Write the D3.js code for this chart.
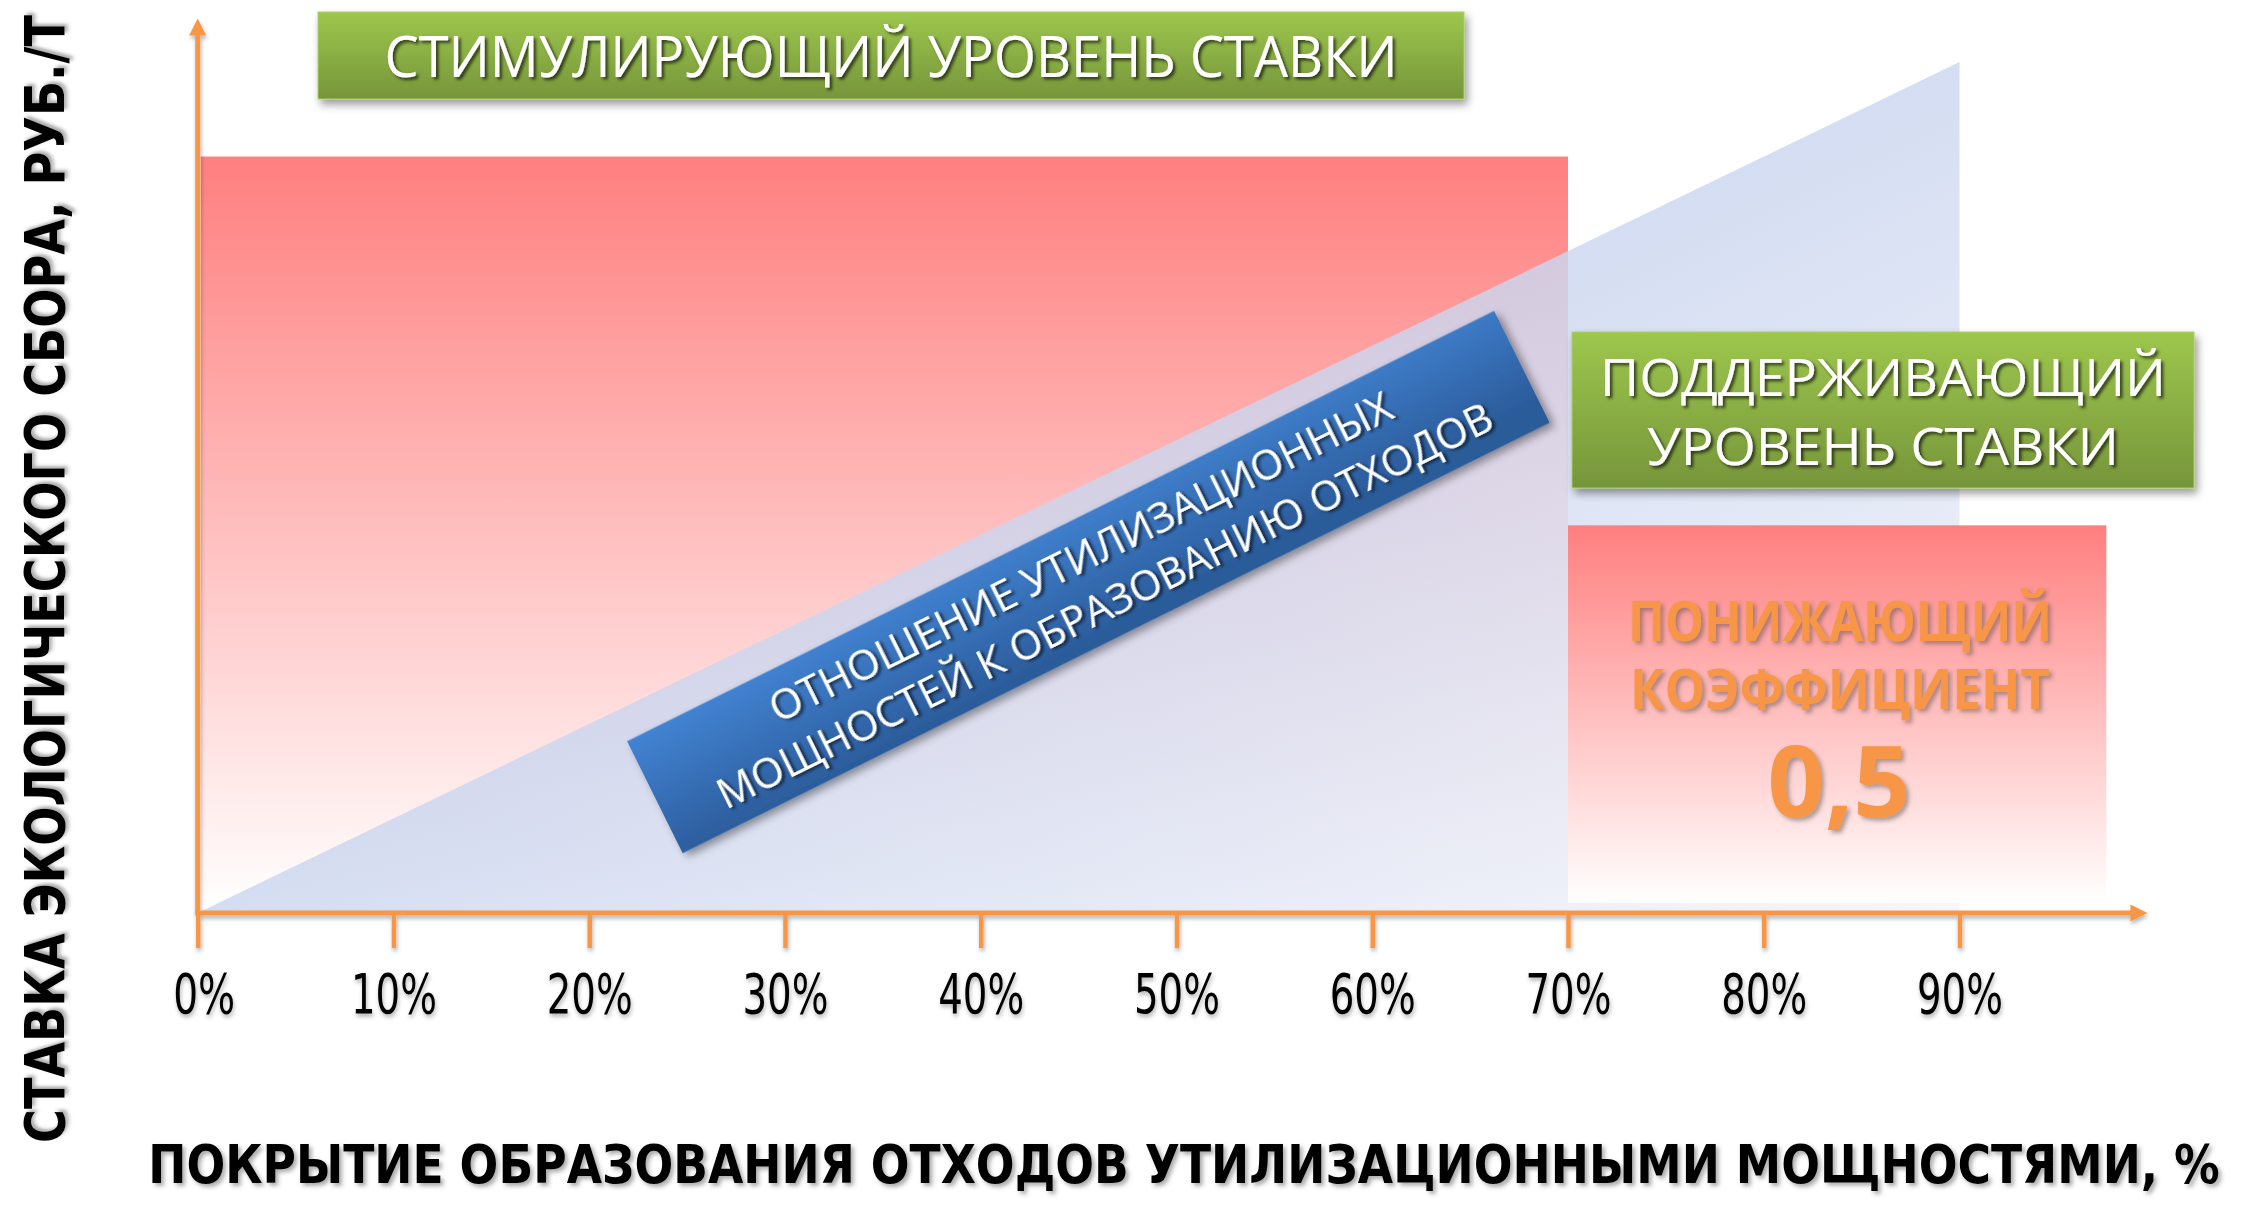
<!DOCTYPE html>
<html><head><meta charset="utf-8">
<script src="https://cdn.jsdelivr.net/npm/d3@7"></script>
<style>html,body{margin:0;padding:0;background:#fff;overflow:hidden} svg{display:block}</style>
</head><body><svg id="chart" width="2246" height="1207"></svg>
<script>
// ---------- data ----------
const coverageTicks = [0,10,20,30,40,50,60,70,80,90];
const coverageTickLabels = ["0%","10%","20%","30%","40%","50%","60%","70%","80%","90%"];
const zoneStart = [0, 70];          // coverage %, start of rate zone
const zoneEnd = [70, 97.5];         // coverage %, end of rate zone
const zoneRate = [80, 41];          // rate level (relative units)
const ratioCoverage = [0, 90, 90];  // triangle: ratio of capacity to waste
const ratioValue = [0, 90, 0];
const topLabel = "СТИМУЛИРУЮЩИЙ УРОВЕНЬ СТАВКИ";
const sideLabel = ["ПОДДЕРЖИВАЮЩИЙ", "УРОВЕНЬ СТАВКИ"];
const reductionLabel = ["ПОНИЖАЮЩИЙ", "КОЭФФИЦИЕНТ"];
const reductionValue = "0,5";
const ratioLabel = ["ОТНОШЕНИЕ УТИЛИЗАЦИОННЫХ", "МОЩНОСТЕЙ К ОБРАЗОВАНИЮ ОТХОДОВ"];
const xTitle = "ПОКРЫТИЕ ОБРАЗОВАНИЯ ОТХОДОВ УТИЛИЗАЦИОННЫМИ МОЩНОСТЯМИ, %";
const yTitle = "СТАВКА ЭКОЛОГИЧЕСКОГО СБОРА, РУБ./Т";

// ---------- setup ----------
const svg = d3.select("#chart");
const x = d3.scaleLinear().domain([0, 90]).range([197.7, 1959.5]);
const y = d3.scaleLinear().domain([0, 90]).range([913, 62]);
const ORANGE = "#F79646";
const defs = svg.append("defs");

function vGrad(id, stops, x2 = 0, y2 = 1) {
  const g = defs.append("linearGradient").attr("id", id)
    .attr("x1", 0).attr("y1", 0).attr("x2", x2).attr("y2", y2);
  stops.forEach(s => g.append("stop").attr("offset", s[0]).attr("stop-color", s[1]));
}
vGrad("redGrad", [[0, "#FF7F7F"], [1, "#FFFFFF"]]);
vGrad("triGrad", [[0, "#C2CFEC"], [0.5, "#CBD6EF"], [1, "#F4F5FA"]], 1, 1);
vGrad("greenGrad", [[0, "#9DC74D"], [1, "#76953A"]]);
vGrad("blueGrad", [[0, "#4283D2"], [1, "#2B5B9A"]], 0.25, 1);

function shadow(id, dx, dy, sd, col, op) {
  defs.append("filter").attr("id", id)
    .attr("x", "-20%").attr("y", "-40%").attr("width", "140%").attr("height", "180%")
    .append("feDropShadow").attr("dx", dx).attr("dy", dy).attr("stdDeviation", sd)
    .attr("flood-color", col).attr("flood-opacity", op);
}
shadow("tsDark", 2.5, 2.5, 1.5, "#000", 0.65);
shadow("tsSoft", 3, 3, 2, "#444", 0.45);
shadow("boxSh", 3, 5, 4, "#000", 0.4);
shadow("axSh", 1, 3, 2, "#000", 0.3);

// ---------- zone 1 (stimulating) ----------
svg.append("rect")
  .attr("x", x(zoneStart[0]) + 3).attr("y", y(zoneRate[0]))
  .attr("width", x(zoneEnd[0]) - x(zoneStart[0]) - 3)
  .attr("height", y(0) - 4 - y(zoneRate[0]))
  .attr("fill", "url(#redGrad)");

// ---------- ratio triangle ----------
const triPts = ratioCoverage.map((c, i) => [x(c), y(ratioValue[i])]);
svg.append("path")
  .attr("d", d3.line()(triPts) + "Z")
  .attr("fill", "url(#triGrad)").attr("fill-opacity", 0.82);

// ---------- zone 2 (reduced) ----------
svg.append("rect")
  .attr("x", x(zoneStart[1])).attr("y", y(zoneRate[1]))
  .attr("width", x(zoneEnd[1]) - x(zoneStart[1]))
  .attr("height", y(0) - 10 - y(zoneRate[1]))
  .attr("fill", "url(#redGrad)");

// ---------- rotated banner ----------
const banner = svg.append("g")
  .attr("transform", `translate(${x(45.5)},${y(35)}) rotate(-26.4)`);
banner.append("rect").attr("x", -484).attr("y", -62.5).attr("width", 968).attr("height", 125)
  .attr("fill", "url(#blueGrad)").attr("filter", "url(#boxSh)");
const bLen = [690, 860];
const bY = [-11, 43];
ratioLabel.forEach((t, i) => {
  banner.append("text").text(t)
    .attr("x", 4).attr("y", bY[i]).attr("text-anchor", "middle")
    .attr("font-family", "'Open Sans', 'Noto Sans', sans-serif").attr("font-size", 42)
    .attr("textLength", bLen[i]).attr("lengthAdjust", "spacingAndGlyphs")
    .attr("fill", "#fff").attr("filter", "url(#tsDark)");
});

// ---------- axes ----------
const axG = svg.append("g").attr("filter", "url(#axSh)");
const xAxis = d3.axisBottom(x).tickValues(coverageTicks)
  .tickFormat((d, i) => coverageTickLabels[i]).tickSize(35).tickSizeOuter(0);
const gx = axG.append("g").attr("transform", `translate(0,${y(0)})`).call(xAxis);
gx.select(".domain").remove();
gx.selectAll(".tick line").attr("stroke", ORANGE).attr("stroke-width", 4.5);
gx.selectAll(".tick text")
  .attr("y", 100).attr("dy", 0)
  .attr("font-family", "'Liberation Sans Narrow', 'DejaVu Sans Condensed', sans-serif")
  .attr("font-size", 56).attr("fill", "#000")
  .attr("textLength", function () { return this.textContent.length > 2 ? 86 : 62; })
  .attr("lengthAdjust", "spacingAndGlyphs");
gx.select(".tick text").attr("dx", 6);

// x axis line + arrow
axG.append("line").attr("x1", x(0) - 2.5).attr("x2", x(99.6) - 14)
  .attr("y1", y(0)).attr("y2", y(0)).attr("stroke", ORANGE).attr("stroke-width", 5);
axG.append("path")
  .attr("d", `M${x(99.6)},${y(0)} L${x(99.6) - 17},${y(0) - 8.5} L${x(99.6) - 17},${y(0) + 8.5}Z`)
  .attr("fill", ORANGE);
// y axis line + arrow
axG.append("line").attr("x1", x(0)).attr("x2", x(0))
  .attr("y1", y(0)).attr("y2", y(94.6) + 14).attr("stroke", ORANGE).attr("stroke-width", 5);
axG.append("path")
  .attr("d", `M${x(0)},${y(94.6)} L${x(0) - 8.5},${y(94.6) + 17} L${x(0) + 8.5},${y(94.6) + 17}Z`)
  .attr("fill", ORANGE);

// ---------- axis titles (horizontally squeezed with a scale transform) ----------
function squeezed(text, family, size, targetLen) {
  const t = svg.append("text").text(text)
    .attr("font-family", family).attr("font-weight", "bold").attr("font-size", size)
    .attr("text-anchor", "middle").attr("fill", "#000").attr("filter", "url(#tsSoft)");
  const natural = t.node().getComputedTextLength();
  return { t, k: Math.min(1, targetLen / natural) };
}
const xt = squeezed(xTitle, "'Liberation Sans Narrow', 'DejaVu Sans Condensed', sans-serif", 53, 2072);
xt.t.attr("transform", `translate(${148 + 2072 / 2},1183) scale(${xt.k},1)`);

const yt = squeezed(yTitle, "'DejaVu Sans', Verdana, sans-serif", 56, 1128);
yt.t.attr("transform", `translate(64,579) rotate(-90) scale(${yt.k},1)`);

// ---------- green labels ----------
function greenBox(x0, y0, w, h) {
  svg.append("rect").attr("x", x0).attr("y", y0).attr("width", w).attr("height", h)
    .attr("fill", "url(#greenGrad)").attr("stroke", "#A9CF66").attr("stroke-width", 1)
    .attr("filter", "url(#boxSh)");
}
function whiteText(t, cx, by, size, len) {
  svg.append("text").text(t).attr("x", cx).attr("y", by).attr("text-anchor", "middle")
    .attr("font-family", "'Open Sans', 'Noto Sans', sans-serif").attr("font-size", size)
    .attr("font-weight", 500)
    .attr("textLength", len).attr("lengthAdjust", "spacingAndGlyphs")
    .attr("fill", "#fff").attr("filter", "url(#tsDark)");
}
greenBox(318, 12, 1146, 87);
whiteText(topLabel, 891, 77, 56, 1013);

greenBox(1572, 332, 622, 156);
whiteText(sideLabel[0], 1883, 396, 52, 566);
whiteText(sideLabel[1], 1883, 465, 52, 472);

// ---------- reduction coefficient text ----------
const oLen = [424, 420];
const oY = [641, 709];
reductionLabel.forEach((t, i) => {
  svg.append("text").text(t).attr("x", 1840).attr("y", oY[i]).attr("text-anchor", "middle")
    .attr("font-family", "'Open Sans', 'Noto Sans', sans-serif").attr("font-weight", "bold")
    .attr("font-size", 55).attr("textLength", oLen[i]).attr("lengthAdjust", "spacingAndGlyphs")
    .attr("fill", ORANGE).attr("filter", "url(#tsSoft)");
});
svg.append("text").text(reductionValue).attr("x", 1839).attr("y", 817).attr("text-anchor", "middle")
  .attr("font-family", "'Open Sans', 'Noto Sans', sans-serif").attr("font-weight", "bold")
  .attr("font-size", 98).attr("textLength", 143).attr("lengthAdjust", "spacingAndGlyphs")
  .attr("fill", ORANGE).attr("filter", "url(#tsSoft)");
</script>
</body></html>
